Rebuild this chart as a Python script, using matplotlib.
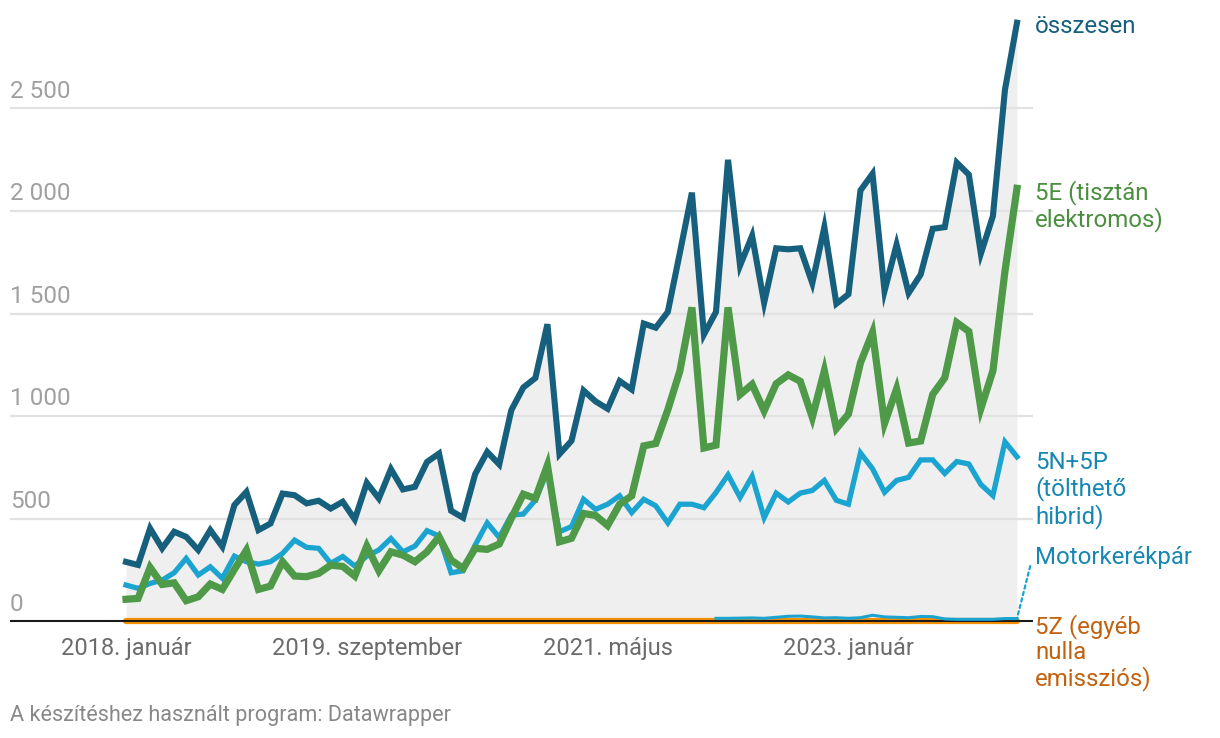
import numpy as np
import matplotlib
matplotlib.use("Agg")
import matplotlib.pyplot as plt

plt.rcParams['font.family'] = ['Roboto', 'DejaVu Sans']

# monthly data, 2018 January - 2024 March
osszesen = [290, 275, 453, 356, 437, 412, 348, 445, 364, 567,
            631, 445, 477, 623, 615, 575, 588, 550, 583, 497,
            675, 599, 742, 643, 656, 777, 818, 539, 505, 718,
            826, 765, 1029, 1140, 1186, 1448, 815, 880, 1125, 1072,
            1036, 1171, 1130, 1451, 1431, 1508, 1796, 2089, 1398, 1508,
            2249, 1734, 1879, 1553, 1818, 1813, 1818, 1648, 1921, 1548,
            1594, 2100, 2181, 1610, 1836, 1600, 1690, 1913, 1921, 2235,
            2177, 1792, 1975, 2590, 2917]
elektromos = [108, 112, 263, 180, 188, 101, 120, 182, 156, 253,
              347, 156, 172, 291, 221, 218, 234, 274, 268, 221,
              367, 247, 339, 323, 291, 339, 412, 299, 258, 356,
              351, 377, 502, 620, 599, 761, 388, 405, 526, 516,
              467, 571, 612, 855, 867, 1031, 1220, 1530, 845, 859,
              1530, 1105, 1155, 1026, 1158, 1201, 1170, 994, 1221, 940,
              1010, 1260, 1408, 965, 1133, 869, 879, 1106, 1187, 1456,
              1413, 1037, 1221, 1706, 2110]
hibrid = [177, 161, 185, 201, 237, 307, 226, 266, 210, 318,
          291, 279, 291, 331, 396, 361, 356, 283, 316, 270,
          318, 348, 404, 339, 367, 442, 416, 237, 247, 372,
          480, 409, 518, 523, 591, 730, 437, 462, 595, 546,
          571, 612, 530, 595, 563, 480, 571, 571, 554, 628,
          714, 604, 707, 505, 625, 582, 625, 638, 687, 590,
          571, 821, 744, 629, 687, 702, 787, 787, 721, 779,
          767, 667, 613, 875, 802]
motor = [np.nan] * 49 + [15, 15, 16, 17, 15, 20, 25, 26, 22, 17,
                         18, 15, 18, 30, 22, 20, 18, 24, 23, 12,
                         10, 10, 10, 10, 14, 14]
egyeb = [0] * 75

tick_pos = [0, 20, 40, 60]
tick_labels = ['2018. január', '2019. szeptember', '2021. május', '2023. január']
y_ticks = [0, 500, 1000, 1500, 2000, 2500]

c_total = '#17607d'
c_green = '#4f9a48'
c_blue = '#1ca4d1'
c_orange = '#f59100'

x = np.arange(len(osszesen))

fig = plt.figure(figsize=(12.2, 7.38), dpi=100)
ax = fig.add_axes([10 / 1220, 98 / 738, 1023 / 1220, 640 / 738])
ax.set_xlim(-9.635, 75.33)
ax.set_ylim(-90.6, 3027.7)
ax.axis('off')

ax.fill_between(x, 0, osszesen, color='#efefef', lw=0, zorder=1)
for v in y_ticks[1:]:
    ax.axhline(v, color='#e2e2e2', lw=1.6, zorder=2)

ax.plot(x, egyeb, color=c_orange, lw=4.5, solid_capstyle='round', zorder=3, clip_on=False)
ax.axhline(0, xmax=1.002, color='#1a1a1a', lw=1.5, zorder=4)
ax.plot(x, motor, color=c_blue, lw=2.2, zorder=5)
ax.plot(x, hibrid, color=c_blue, lw=3.8, solid_joinstyle='miter', zorder=6)
ax.plot(x, elektromos, color=c_green, lw=5.2, solid_joinstyle='miter', zorder=7)
ax.plot(x, osszesen, color=c_total, lw=4.4, solid_joinstyle='miter', zorder=8)

# y labels sit above their gridlines
for v in y_ticks:
    lab = f'{v:,}'.replace(',', ' ')
    ax.text(-9.635, v + 28, lab, ha='left', va='bottom', fontsize=17.5, color='#a0a0a0')

for p, lab in zip(tick_pos, tick_labels):
    ax.text(p, -76, lab, ha='center', va='top', fontsize=17, color='#6b6b6b')

lx = 75.5
fs = 17.3
ax.text(lx, osszesen[-1] - 20, 'összesen', ha='left', va='center', fontsize=fs,
        color=c_total, clip_on=False)
ax.text(lx, elektromos[-1] + 40, '5E (tisztán\nelektromos)', ha='left', va='top',
        fontsize=fs, color='#4a8f3e', linespacing=1.12)
ax.text(lx, hibrid[-1] + 28, '5N+5P\n(tölthető\nhibrid)', ha='left', va='top',
        fontsize=fs, color='#1687b3', linespacing=1.12)
ax.text(lx, 309, 'Motorkerékpár', ha='left', va='center', fontsize=fs, color='#1687b3')
ax.text(lx, 36, '5Z (egyéb\nnulla\nemissziós)', ha='left', va='top',
        fontsize=fs, color='#c2620f', linespacing=1.12)
ax.annotate('', xy=(74, motor[-1]), xytext=(75.1, 270),
            arrowprops=dict(arrowstyle='-', color=c_blue, ls=(0, (1.5, 1.5)), lw=1.6,
                            shrinkA=0, shrinkB=0))

fig.text(10 / 1220, 1 - 715 / 738, 'A készítéshez használt program: Datawrapper',
         ha='left', va='center', fontsize=15.6, color='#888888')

fig.savefig('out.png', dpi=100)
